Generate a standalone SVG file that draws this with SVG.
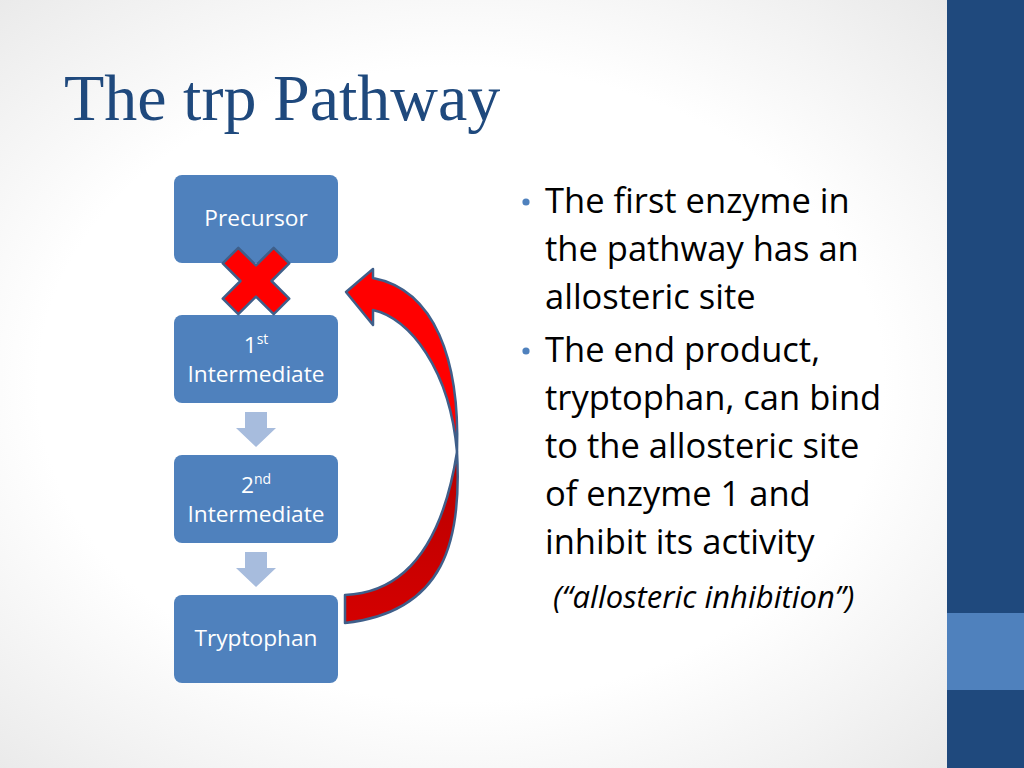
<svg xmlns="http://www.w3.org/2000/svg" width="1024" height="768" viewBox="0 0 1024 768">
<defs>
<radialGradient id="bg" cx="0.45" cy="0.5" r="0.75">
<stop offset="0.55" stop-color="#ffffff"/>
<stop offset="1" stop-color="#e4e4e4"/>
</radialGradient>
<linearGradient id="back" x1="0" y1="0" x2="0" y2="1">
<stop offset="0" stop-color="#b80000"/>
<stop offset="1" stop-color="#d40000"/>
</linearGradient>
<style>
.box{fill:#4f81bd;}
.lbl{font-family:"Open Sans","Liberation Sans",sans-serif;font-size:22.7px;fill:#ffffff;text-anchor:middle;}
.sup{font-size:14px;}
.down{fill:#a7bcdd;}
.body{font-family:"Open Sans","Liberation Sans",sans-serif;font-size:34.5px;fill:#000000;}
.ital{font-family:"Open Sans","Liberation Sans",sans-serif;font-size:31px;font-style:italic;fill:#000000;}
.bullet{fill:#4f81bd;}
.red{stroke:#3f5f8a;stroke-width:2.5;stroke-linejoin:round;}
</style>
</defs>
<rect x="0" y="0" width="1024" height="768" fill="url(#bg)"/>
<rect x="947" y="0" width="77" height="768" fill="#1f497d"/>
<rect x="947" y="613" width="77" height="77" fill="#4f81bd"/>
<text x="64" y="120" font-family="'Liberation Serif','Times New Roman',serif" font-size="66" fill="#1f497d">The trp Pathway</text>

<g id="connectors">
<polygon class="down" points="245,412 267,412 267,428 276,428 256,447 236,428 245,428"/>
<polygon class="down" points="245,552 267,552 267,568 276,568 256,587 236,568 245,568"/>
</g>

<g id="precursor">
<rect class="box" x="174" y="175" width="164" height="88" rx="8"/>
<text class="lbl" x="256" y="226">Precursor</text>
</g>
<g id="intermediate1">
<rect class="box" x="174" y="315" width="164" height="88" rx="8"/>
<text class="lbl" x="256" y="353">1<tspan class="sup" dy="-9">st</tspan></text>
<text class="lbl" x="256" y="382">Intermediate</text>
</g>
<g id="intermediate2">
<rect class="box" x="174" y="455" width="164" height="88" rx="8"/>
<text class="lbl" x="256" y="493">2<tspan class="sup" dy="-9">nd</tspan></text>
<text class="lbl" x="256" y="522">Intermediate</text>
</g>
<g id="tryptophan">
<rect class="box" x="174" y="595" width="164" height="88" rx="8"/>
<text class="lbl" x="256" y="646">Tryptophan</text>
</g>

<g id="block-x">
<polygon class="red" fill="#ff0000" transform="translate(256,281) rotate(45)" points="-11,-36 11,-36 11,-11 36,-11 36,11 11,11 11,36 -11,36 -11,11 -36,11 -36,-11 -11,-11"/>
</g>

<g id="feedback-arrow">
<path class="red" fill="url(#back)" d="M345,595 C395,593 440,560 457,452 C462,540 445,612 345,623 Z"/>
<path class="red" fill="#ff0000" d="M457,452 C460,360 435,290 373,278 L373,269 L346,292 L373,325 L373,310 C410,318 450,370 457,452 Z"/>
</g>

<g id="bullets">
<circle class="bullet" cx="526" cy="202" r="3.6"/>
<text class="body" x="545" y="213">The first enzyme in</text>
<text class="body" x="545" y="261">the pathway has an</text>
<text class="body" x="545" y="309">allosteric site</text>
<circle class="bullet" cx="526" cy="351" r="3.6"/>
<text class="body" x="545" y="362">The end product,</text>
<text class="body" x="545" y="410">tryptophan, can bind</text>
<text class="body" x="545" y="458">to the allosteric site</text>
<text class="body" x="545" y="506">of enzyme 1 and</text>
<text class="body" x="545" y="554">inhibit its activity</text>
<text class="ital" x="553" y="608">(“allosteric inhibition”)</text>
</g>
</svg>
